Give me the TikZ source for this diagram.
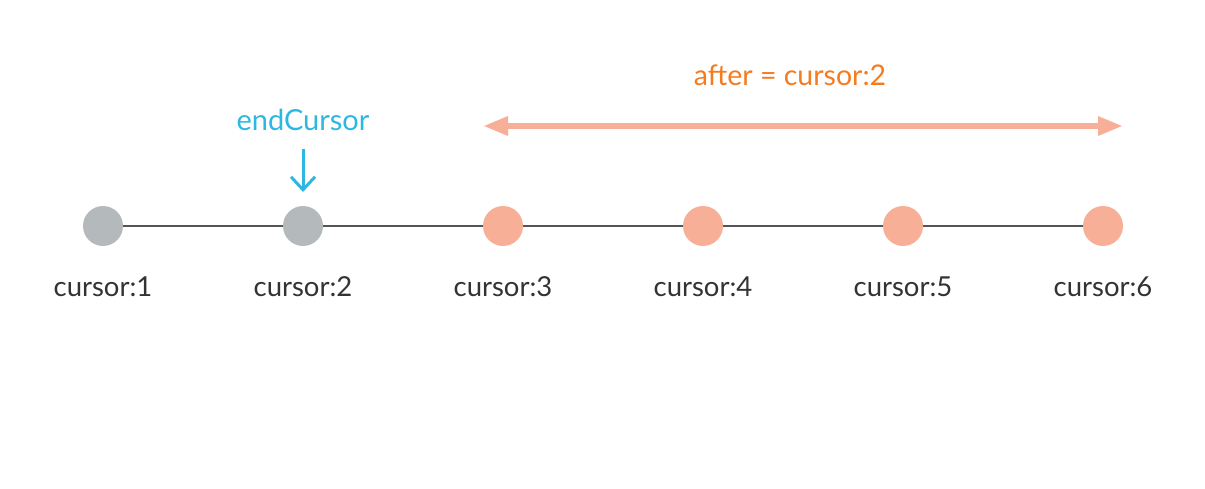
\documentclass[tikz,border=0pt]{standalone}
\usepackage{fontspec}
\setmainfont{Lato}
\usetikzlibrary{arrows.meta,calc}
\definecolor{greyc}{HTML}{B4B9BB}
\definecolor{peach}{HTML}{F8AF97}
\definecolor{linec}{HTML}{555555}
\definecolor{cyanc}{HTML}{2DB8E0}
\definecolor{orangec}{HTML}{F47B20}
\definecolor{textc}{HTML}{333333}
\begin{document}
\begin{tikzpicture}[x=1pt,y=-1pt,
  dot/.style={circle,minimum size=40pt,inner sep=0pt},
  olddot/.style={dot,fill=greyc},
  newdot/.style={dot,fill=peach},
  lbl/.style={font=\fontsize{27.5}{32}\selectfont,text=textc}]
\useasboundingbox (0,0) rectangle (1205,489);
\node[olddot] (c1) at (103,226) {};
\node[olddot] (c2) at (303,226) {};
\node[newdot] (c3) at (503,226) {};
\node[newdot] (c4) at (703,226) {};
\node[newdot] (c5) at (903,226) {};
\node[newdot] (c6) at (1103,226) {};
\foreach \a/\b in {c1/c2,c2/c3,c3/c4,c4/c5,c5/c6}
  \draw[linec,line width=2pt] (\a) -- (\b);
\foreach \i in {1,...,6}
  \node[lbl] (l\i) at ($(c\i)+(0,61)$) {cursor:\i};
\node[lbl,text=cyanc,font=\fontsize{29}{34}\selectfont] (ec) at (303,120) {endCursor};
\coordinate (ea) at (303,149);
\coordinate (eb) at (303,192);
\draw[cyanc,line width=3pt,-{Straight Barb[length=13pt,width=24pt,line width=3pt]}] (ea) -- (eb);
\node[lbl,text=orangec,font=\fontsize{28.5}{33}\selectfont] (af) at (790,75) {after = cursor:2};
\coordinate (al) at (483,126);
\coordinate (ar) at (1123,126);
\draw[peach,line width=6pt,{Triangle[length=25pt,width=18pt]}-{Triangle[length=25pt,width=18pt]}] (al) -- (ar);
\end{tikzpicture}
\end{document}
